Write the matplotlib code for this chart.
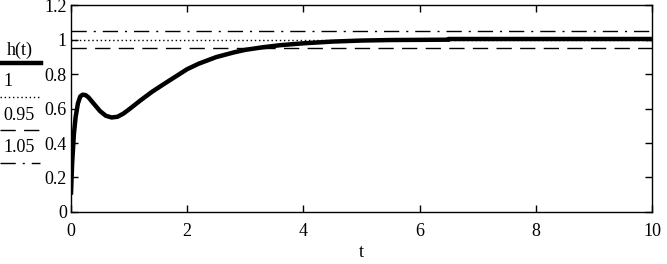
import matplotlib
matplotlib.use('Agg')
import matplotlib.pyplot as plt
from matplotlib.lines import Line2D

plt.rcParams['font.family'] = ['Liberation Serif', 'DejaVu Serif']

# step response
t = [0, 0.02, 0.05, 0.08, 0.12, 0.16, 0.2, 0.25, 0.3, 0.4, 0.5, 0.6, 0.7,
     0.8, 0.9, 1.0, 1.2, 1.4, 1.6, 1.8, 2.0, 2.2, 2.5, 2.8, 3.0, 3.3, 3.6,
     4.0, 4.5, 5.0, 5.5, 6.0, 6.5, 6.5, 8.0, 10.0]
h = [0.10, 0.28, 0.45, 0.55, 0.63, 0.67, 0.68, 0.678, 0.665, 0.625, 0.585,
     0.558, 0.548, 0.552, 0.57, 0.595, 0.648, 0.698, 0.742, 0.785, 0.828,
     0.86, 0.898, 0.925, 0.94, 0.955, 0.967, 0.978, 0.988, 0.994, 0.997,
     0.998, 0.999, 1.003, 1.003, 1.003]

levels = [1, 0.95, 1.05]
level_labels = ['1', '0.95', '1.05']
level_styles = [(0, (1, 2)), (0, (11, 6)), (0, (11, 5, 1.5, 5))]

xticks = [0, 2, 4, 6, 8, 10]
yticks = [0, 0.2, 0.4, 0.6, 0.8, 1, 1.2]

fig = plt.figure(figsize=(6.67, 2.64), dpi=100)
ax = fig.add_axes([0.1064, 0.197, 0.871, 0.784])

ax.plot(t, h, color='black', lw=3.2, solid_capstyle='butt')
for lv, ls in zip(levels, level_styles):
    ax.axhline(lv, color='black', lw=1.0, linestyle=ls)

ax.set_xlim(0, 10)
ax.set_ylim(0, 1.2)
ax.set_xticks(xticks)
ax.set_yticks(yticks)
ax.set_xticklabels([str(v) for v in xticks])
ax.set_yticklabels(['%g' % v for v in yticks])
ax.tick_params(direction='in', length=5, width=1, top=True, right=True,
               labelsize=13, colors='black')
ax.tick_params(axis='x', pad=8)
ax.tick_params(axis='y', pad=3)
for s in ax.spines.values():
    s.set_linewidth(1.0)
ax.set_xlabel('t', fontsize=13, labelpad=3)

# legend to the left of the plot, label above its line sample
W, H = 667.0, 264.0
def px(x, y):
    return x / W, 1 - y / H

fig.text(*px(20, 50), 'h(t)', fontsize=13, ha='center', va='center')
fig.add_artist(Line2D([0, 41 / W], [1 - 63 / H] * 2, color='black', lw=3.2,
                      transform=fig.transFigure))
ypos = [82, 115, 148]
for lab, ls, y in zip(level_labels, level_styles, ypos):
    fig.text(*px(3, y), lab, fontsize=13, ha='left', va='center')
    fig.add_artist(Line2D([0, 40 / W], [1 - (y + 15) / H] * 2, color='black',
                          lw=1.0, linestyle=ls, transform=fig.transFigure))

fig.savefig('out.png', dpi=100)
